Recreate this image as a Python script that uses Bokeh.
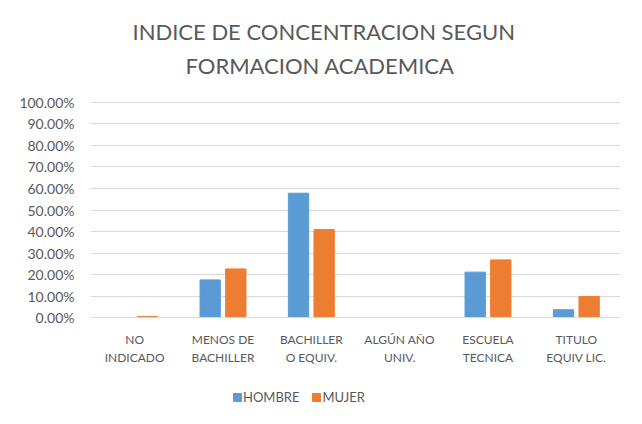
from bokeh.plotting import figure
from bokeh.models import ColumnDataSource, Legend, LegendItem, NumeralTickFormatter, FixedTicker, Title, Range1d
from bokeh.transform import dodge
from bokeh.embed import file_html
from bokeh.resources import INLINE

categories = ["NO\nINDICADO", "MENOS DE\nBACHILLER", "BACHILLER\nO EQUIV.", "ALGÚN AÑO\nUNIV.", "ESCUELA\nTECNICA", "TITULO\nEQUIV LIC."]
hombre = [0.0, 0.175, 0.578, 0.0, 0.211, 0.036]
mujer = [0.005, 0.226, 0.409, 0.0, 0.268, 0.098]
y_ticks = [0, 0.1, 0.2, 0.3, 0.4, 0.5, 0.6, 0.7, 0.8, 0.9, 1.0]
title_lines = ["INDICE DE CONCENTRACION SEGUN", "FORMACION ACADEMICA"]

src = ColumnDataSource(dict(cat=categories, hombre=hombre, mujer=mujer))

FONT = "Lato"
GRAY = "#595959"

p = figure(x_range=categories, y_range=Range1d(-0.41395, 1.08837), frame_width=530, frame_height=323,
           output_backend="svg", toolbar_location=None,
           min_border_left=90, min_border_right=6, min_border_top=83, min_border_bottom=0)

p.add_layout(Title(text=title_lines[1], align="left", offset=95, standoff=10, text_font=FONT,
                   text_font_size="22px", text_font_style="normal", text_color=GRAY,
                   text_line_height=1.0), "above")
p.add_layout(Title(text=title_lines[0], align="left", offset=42, standoff=0, text_font=FONT,
                   text_font_size="22px", text_font_style="normal", text_color=GRAY,
                   text_line_height=1.0), "above")

r1 = p.vbar(x=dodge("cat", -0.145, range=p.x_range), top="hombre", width=0.23, source=src,
            fill_color="#5b9bd5", line_color="#5b9bd5")
r2 = p.vbar(x=dodge("cat", 0.145, range=p.x_range), top="mujer", width=0.23, source=src,
            fill_color="#ed7d31", line_color="#ed7d31")

p.yaxis.ticker = FixedTicker(ticks=y_ticks)
p.yaxis.formatter = NumeralTickFormatter(format="0.00%")
p.yaxis.axis_line_color = None
p.yaxis.major_tick_line_color = None
p.yaxis.minor_tick_line_color = None
p.yaxis.major_label_text_font = FONT
p.yaxis.major_label_text_font_size = "14px"
p.yaxis.major_label_text_color = GRAY
p.yaxis.major_label_standoff = 10

p.xaxis.fixed_location = 0
p.xaxis.axis_line_color = "#d9d9d9"
p.xaxis.major_tick_line_color = None
p.xaxis.minor_tick_line_color = None
p.xaxis.major_label_text_font = FONT
p.xaxis.major_label_text_font_size = "12px"
p.xaxis.major_label_text_color = GRAY
p.xaxis.major_label_standoff = 8

p.xgrid.grid_line_color = None
p.ygrid.grid_line_color = "#d9d9d9"
p.outline_line_color = None
p.x_range.range_padding = 0

legend = Legend(items=[LegendItem(label="HOMBRE", renderers=[r1]),
                       LegendItem(label="MUJER", renderers=[r2])],
                orientation="horizontal", location=(142, 1),
                label_text_font=FONT, label_text_font_size="13px", label_text_color=GRAY,
                glyph_width=10, glyph_height=10, label_height=12, spacing=12, label_standoff=1,
                border_line_color=None, background_fill_alpha=0, padding=0, margin=0)
p.add_layout(legend, "center")

open("out.html", "w").write(file_html(p, INLINE))
